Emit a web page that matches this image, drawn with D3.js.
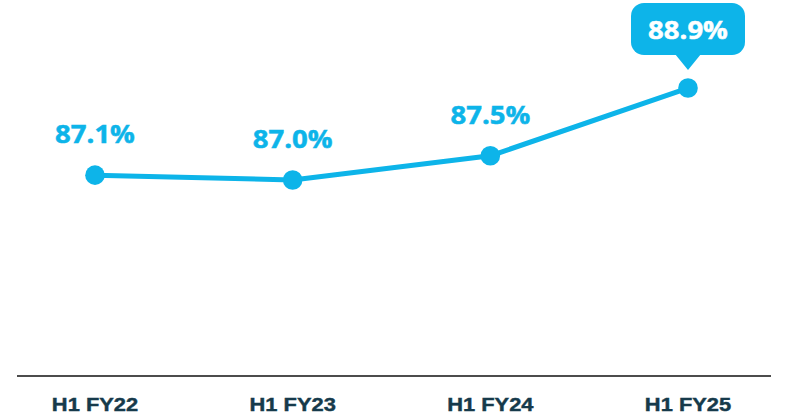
<!DOCTYPE html>
<html>
<head>
<meta charset="utf-8">
<script src="https://cdn.jsdelivr.net/npm/d3@7"></script>
<style>
  body { margin: 0; background: #fff; }
  svg { display: block; }
</style>
</head>
<body>
<div id="chart"></div>
<script>
const periods = ["H1 FY22", "H1 FY23", "H1 FY24", "H1 FY25"];
const values = [87.1, 87.0, 87.5, 88.9];
const valueLabels = ["87.1%", "87.0%", "87.5%", "88.9%"];
const highlightIndex = 3;

const width = 789;
const height = 413;
const blue = "#0db4e9";
const navy = "#163a4b";

const svg = d3.select("#chart").append("svg")
    .attr("width", width)
    .attr("height", height);

const x = d3.scalePoint()
    .domain(periods)
    .range([95, 688]);

const y = d3.scaleLinear()
    .domain([83, 89])
    .range([373.6, 83.2]);

// baseline + category labels
const axisY = 376;
svg.append("line")
    .attr("x1", 17).attr("x2", 771)
    .attr("y1", axisY).attr("y2", axisY)
    .attr("stroke", "#111")
    .attr("stroke-width", 1.4);

svg.append("g")
    .selectAll("text")
    .data(periods)
    .enter()
    .append("text")
    .attr("transform", d => `translate(${x(d)},${axisY + 34.5}) scale(1.25,1)`)
    .attr("text-anchor", "middle")
    .attr("font-family", "'Liberation Sans', Arial, sans-serif")
    .attr("font-weight", "bold")
    .attr("font-size", 17.5)
    .attr("fill", navy)
    .attr("stroke", navy)
    .attr("stroke-width", 0.4)
    .text(d => d);

// line
const line = d3.line()
    .x((d, i) => x(periods[i]))
    .y(d => y(d));

svg.append("path")
    .datum(values)
    .attr("d", line)
    .attr("fill", "none")
    .attr("stroke", blue)
    .attr("stroke-width", 5)
    .attr("stroke-linejoin", "round");

svg.append("g")
    .selectAll("circle")
    .data(values)
    .enter()
    .append("circle")
    .attr("cx", (d, i) => x(periods[i]))
    .attr("cy", d => y(d))
    .attr("r", 9.8)
    .attr("fill", blue);

// plain value labels
svg.append("g")
    .selectAll("text")
    .data(values.map((v, i) => ({v, i})).filter(d => d.i !== highlightIndex))
    .enter()
    .append("text")
    .attr("transform", d => `translate(${x(periods[d.i])},${y(d.v) - 32}) scale(1.1,1)`)
    .attr("text-anchor", "middle")
    .attr("font-family", "'Open Sans', sans-serif")
    .attr("font-weight", "bold")
    .attr("font-size", 25)
    .attr("fill", blue)
    .attr("stroke", blue)
    .attr("stroke-width", 0.5)
    .text(d => valueLabels[d.i]);

// callout for latest value
const cx = x(periods[highlightIndex]);
const cy = y(values[highlightIndex]);
const boxW = 114, boxH = 52, tipGap = 18, tipH = 15, tipHalf = 13;
const callout = svg.append("g")
    .attr("transform", `translate(${cx},${cy - tipGap})`);

callout.append("rect")
    .attr("x", -boxW / 2)
    .attr("y", -tipH - boxH)
    .attr("width", boxW)
    .attr("height", boxH)
    .attr("rx", 13)
    .attr("fill", blue);

callout.append("path")
    .attr("d", `M${-tipHalf},${-tipH - 1}L0,0L${tipHalf},${-tipH - 1}Z`)
    .attr("fill", blue);

callout.append("text")
    .attr("transform", `translate(0,${-tipH - 16}) scale(1.1,1)`)
    .attr("text-anchor", "middle")
    .attr("font-family", "'Open Sans', sans-serif")
    .attr("font-weight", "bold")
    .attr("font-size", 25)
    .attr("fill", "#fff")
    .attr("stroke", "#fff")
    .attr("stroke-width", 0.5)
    .text(valueLabels[highlightIndex]);
</script>
</body>
</html>
